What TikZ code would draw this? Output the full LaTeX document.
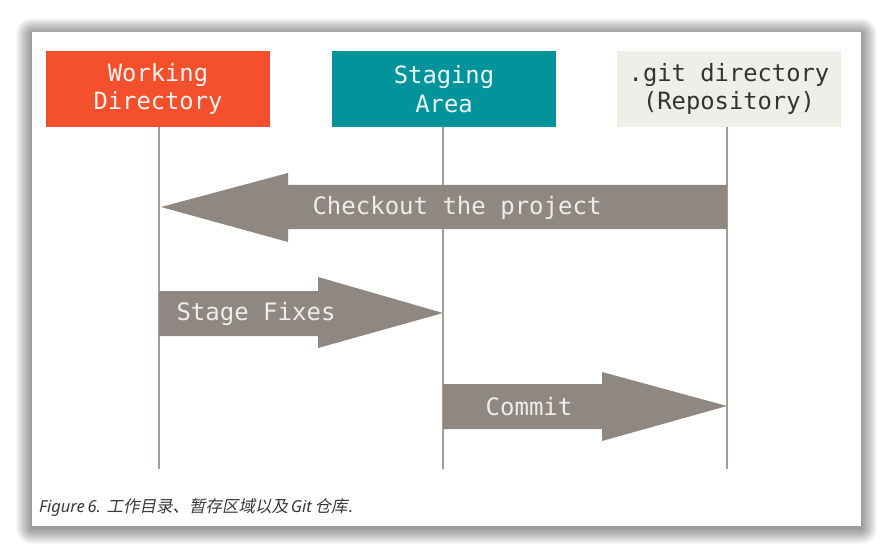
\documentclass[tikz,border=0pt]{standalone}
\usepackage{fontspec}
\setmonofont{DejaVu Sans Mono}
\newfontfamily\capfont{Noto Sans}
\newfontfamily\cjkfont[FakeSlant=0.2]{Noto Sans CJK SC}
\definecolor{wdred}{HTML}{F4502E}
\definecolor{stteal}{HTML}{03939B}
\definecolor{gitbg}{HTML}{EFEEE8}
\definecolor{arrowgray}{HTML}{8F8882}
\definecolor{linegray}{HTML}{A39E98}
\definecolor{arrowtext}{HTML}{EEEDE9}
\definecolor{captext}{HTML}{3A3A3A}
\tikzset{
  box/.style={minimum width=224pt, minimum height=76pt, inner sep=0pt, align=center,
    font=\ttfamily\fontsize{23.8}{28.5}\selectfont},
  lifeline/.style={draw=linegray, line width=1.3pt},
  bigarrow/.style={fill=arrowgray},
  arrowlabel/.style={text=arrowtext, font=\ttfamily\fontsize{24}{28}\selectfont, inner sep=0pt}
}
\begin{document}
\begin{tikzpicture}[x=1pt,y=-1pt]
\useasboundingbox (0,0) rectangle (891,556);
\fill[white] (0,0) rectangle (891,556);
% shadow
\foreach \k in {1,...,16} {
  \fill[black, opacity=0.028, rounded corners=\k pt] (32-\k,32-\k+2) rectangle (861+\k,526+\k+2);
}
\fill[white] (32,32) rectangle (861,526);
% boxes
\node[box, fill=wdred, text=white!92!wdred] (wd) at (158,89) {Working\\Directory};
\node[box, fill=stteal, text=white!92!stteal] (sa) at (444,89) {Staging\\Area};
\node[box, fill=gitbg, text=black!80] (git) at (729,89) {.git directory\\(Repository)};
% lifelines
\coordinate (wdend) at (159,469);
\coordinate (saend) at (443,469);
\coordinate (gitend) at (727,469);
\draw[lifeline] (wd.south -| wdend) -- (wdend);
\draw[lifeline] (sa.south -| saend) -- (saend);
\draw[lifeline] (git.south -| gitend) -- (gitend);
% checkout arrow
\fill[bigarrow] (727,185) -- (288,185) -- (288,173) -- (161,207) -- (288,242) -- (288,229) -- (727,229) -- cycle;
\node[arrowlabel] (co) at (457,208) {Checkout the project};
% stage fixes arrow
\fill[bigarrow] (159,291) -- (318,291) -- (318,277) -- (443,313) -- (318,348) -- (318,336) -- (159,336) -- cycle;
\node[arrowlabel] (sf) at (256,314) {Stage Fixes};
% commit arrow
\fill[bigarrow] (443,384) -- (602,384) -- (602,372) -- (727,406) -- (602,441) -- (602,429) -- (443,429) -- cycle;
\node[arrowlabel] (cm) at (529,407) {Commit};
% caption
\node[anchor=west, inner sep=0pt, text=captext, font=\capfont\itshape\fontsize{16.5}{19}\selectfont] (cap) at (39,508) {Figure\,6. {\cjkfont 工作目录、暂存区域以及}\,Git\,{\cjkfont 仓库}\kern1.5pt.};
\end{tikzpicture}
\end{document}
